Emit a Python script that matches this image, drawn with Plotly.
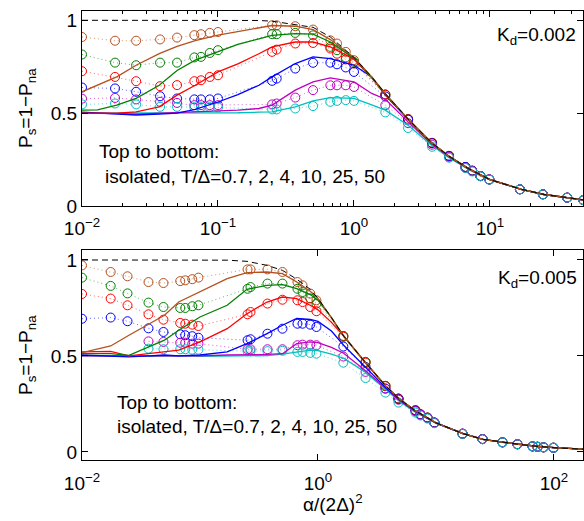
import plotly.graph_objects as go

# ---------------- data: top panel (K_d = 0.002) ----------------
x_th_top = [0.01, 0.013, 0.018, 0.025, 0.037, 0.05, 0.068, 0.1, 0.14, 0.2, 0.25, 0.37, 0.5,
            0.67, 1.0, 1.35, 1.7, 2.5, 3.7, 5, 7, 10, 17, 25, 37, 50]
th_top_iso = [1, 1, 1, 1, 1, 1, 1, 1, 1, 0.999, 0.995, 0.976, 0.962, 0.91, 0.80, 0.695, 0.605,
              0.468, 0.342, 0.268, 0.2, 0.142, 0.09, 0.062, 0.045, 0.032]
th_top_07 = [0.615, 0.65, 0.695, 0.758, 0.82, 0.86, 0.89, 0.92, 0.94, 0.96, 0.972, 0.968, 0.95,
             0.896, 0.80, 0.695, 0.605, 0.468, 0.342, 0.268, 0.2, 0.142, 0.09, 0.062, 0.045, 0.032]
th_top_2 = [0.516, 0.518, 0.543, 0.58, 0.65, 0.73, 0.785, 0.83, 0.87, 0.90, 0.919, 0.928, 0.925,
            0.883, 0.795, 0.693, 0.603, 0.468, 0.342, 0.268, 0.2, 0.142, 0.09, 0.062, 0.045, 0.032]
th_top_4 = [0.5, 0.5, 0.5, 0.507, 0.534, 0.597, 0.65, 0.722, 0.765, 0.82, 0.857, 0.883, 0.883,
            0.857, 0.79, 0.69, 0.60, 0.467, 0.342, 0.268, 0.2, 0.142, 0.09, 0.062, 0.045, 0.032]
th_top_10 = [0.505, 0.5, 0.497, 0.49, 0.495, 0.5, 0.52, 0.56, 0.60, 0.65, 0.695, 0.767, 0.803,
             0.794, 0.758, 0.695, 0.597, 0.465, 0.34, 0.267, 0.2, 0.142, 0.09, 0.062, 0.045, 0.032]
th_top_25 = [0.5, 0.5, 0.497, 0.495, 0.5, 0.5, 0.505, 0.51, 0.516, 0.525, 0.543, 0.624, 0.668,
             0.69, 0.668, 0.606, 0.575, 0.453, 0.335, 0.265, 0.2, 0.142, 0.09, 0.062, 0.045, 0.032]
th_top_50 = [0.5, 0.5, 0.5, 0.498, 0.5, 0.5, 0.498, 0.5, 0.502, 0.505, 0.507, 0.534, 0.566,
             0.584, 0.58, 0.545, 0.516, 0.435, 0.328, 0.26, 0.196, 0.14, 0.09, 0.062, 0.045, 0.032]

x_sim_top = [0.01, 0.0175, 0.025, 0.0375, 0.05, 0.067, 0.075, 0.087, 0.1,
             0.25, 0.27, 0.37, 0.5, 0.67, 0.75, 0.87, 1.0,
             1.7, 2.5, 3.75, 5, 6.6, 7.4, 8.5, 9.9, 16.6, 24.5, 37, 48.5]
sim_top_07 = [0.91, 0.89, 0.89, 0.897, 0.907, 0.92, 0.925, 0.932, 0.937,
              0.973, 0.973, 0.968, 0.95, 0.892, 0.875, 0.83, 0.785,
              0.60, 0.468, 0.34, 0.27, 0.21, 0.19, 0.161, 0.143, 0.09, 0.063, 0.045, 0.032]
sim_top_2 = [0.816, 0.772, 0.758, 0.772, 0.772, 0.80, 0.803, 0.824, 0.839,
             0.925, 0.925, 0.932, 0.919, 0.857, 0.839, 0.80, 0.776,
             0.60, 0.468, 0.34, 0.27, 0.21, 0.19, 0.161, 0.143, 0.09, 0.063, 0.045, 0.032]
sim_top_4 = [0.726, 0.695, 0.672, 0.645, 0.651, 0.672, 0.677, 0.695, 0.704,
             0.83, 0.842, 0.875, 0.878, 0.848, 0.82, 0.789, 0.767,
             0.60, 0.468, 0.34, 0.27, 0.21, 0.19, 0.161, 0.143, 0.09, 0.063, 0.045, 0.032]
sim_top_10 = [0.638, 0.633, 0.615, 0.591, 0.579, 0.574, 0.574, 0.574, 0.579,
              0.674, 0.686, 0.74, 0.771, 0.772, 0.763, 0.746, 0.722,
              0.59, 0.465, 0.338, 0.268, 0.21, 0.19, 0.161, 0.143, 0.09, 0.063, 0.045, 0.032]
sim_top_25 = [0.578, 0.582, 0.574, 0.561, 0.555, 0.543, 0.543, 0.543, 0.543,
              0.547, 0.552, 0.584, 0.624, 0.65, 0.65, 0.65, 0.641,
              0.543, 0.446, 0.33, 0.265, 0.205, 0.188, 0.161, 0.143, 0.09, 0.063, 0.045, 0.032]
sim_top_50 = [0.547, 0.552, 0.547, 0.534, 0.534, 0.532, 0.532, 0.532, 0.531,
              0.52, 0.52, 0.525, 0.538, 0.561, 0.566, 0.57, 0.566,
              0.504, 0.42, 0.319, 0.26, 0.205, 0.186, 0.16, 0.142, 0.09, 0.063, 0.045, 0.032]

# ---------------- data: bottom panel (K_d = 0.005) ----------------
x_th_bot = [0.01, 0.0175, 0.025, 0.037, 0.05, 0.066, 0.1, 0.17, 0.25, 0.37, 0.5, 0.66, 0.86,
            1.0, 1.3, 1.65, 2.5, 3.75, 4.85, 6.6, 10, 17, 25, 37, 50, 70, 100, 180]
th_bot_iso = [1, 1, 1, 1, 1, 1, 1, 0.999, 0.993, 0.972, 0.946, 0.90, 0.847,
              0.80, 0.70, 0.604, 0.469, 0.344, 0.278, 0.217, 0.152, 0.095, 0.066, 0.05, 0.04,
              0.03, 0.022, 0.014]
th_bot_07 = [0.517, 0.552, 0.608, 0.668, 0.712, 0.781, 0.833, 0.903, 0.934, 0.9375, 0.929,
             0.885, 0.837, 0.80, 0.70, 0.604, 0.469, 0.344, 0.278, 0.217, 0.152, 0.095, 0.066,
             0.05, 0.04, 0.03, 0.022, 0.014]
th_bot_2 = [0.512, 0.512, 0.503, 0.547, 0.582, 0.634, 0.703, 0.764, 0.847, 0.868, 0.872,
            0.851, 0.82, 0.79, 0.70, 0.604, 0.469, 0.344, 0.278, 0.217, 0.152, 0.095, 0.066,
            0.05, 0.04, 0.03, 0.022, 0.014]
th_bot_4 = [0.521, 0.524, 0.5, 0.512, 0.521, 0.53, 0.573, 0.642, 0.72, 0.781, 0.807, 0.799,
            0.764, 0.74, 0.675, 0.604, 0.467, 0.343, 0.278, 0.217, 0.152, 0.095, 0.066, 0.05,
            0.04, 0.03, 0.022, 0.014]
th_bot_10 = [0.505, 0.50, 0.495, 0.50, 0.505, 0.50, 0.505, 0.521, 0.564, 0.616, 0.66, 0.695,
             0.69, 0.68, 0.63, 0.556, 0.443, 0.335, 0.275, 0.215, 0.151, 0.095, 0.066, 0.05,
             0.04, 0.03, 0.022, 0.014]
th_bot_25 = [0.5, 0.5, 0.498, 0.5, 0.5, 0.502, 0.5, 0.505, 0.505, 0.508, 0.512, 0.564, 0.573,
             0.57, 0.545, 0.514, 0.425, 0.33, 0.27, 0.212, 0.15, 0.095, 0.066, 0.05, 0.04,
             0.03, 0.022, 0.014]
th_bot_50 = [0.5, 0.502, 0.5, 0.498, 0.5, 0.5, 0.498, 0.5, 0.5, 0.502, 0.51, 0.521, 0.53,
             0.528, 0.51, 0.488, 0.417, 0.325, 0.265, 0.21, 0.15, 0.095, 0.066, 0.05, 0.04,
             0.03, 0.022, 0.014]

x_sim_bot = [0.01, 0.0175, 0.0243, 0.0366, 0.049, 0.068, 0.075, 0.086, 0.097,
             0.253, 0.268, 0.373, 0.5, 0.67, 0.74, 0.86, 0.97,
             1.64, 2.53, 3.73, 4.81, 6.7, 7.38, 8.47, 9.7, 16.8, 24.8, 36.6, 49,
             65.8, 72.5, 81.5, 99]
sim_bot_07 = [0.972, 0.9375, 0.915, 0.885, 0.88, 0.89, 0.894, 0.90, 0.908,
              0.951, 0.951, 0.951, 0.9375, 0.885, 0.868, 0.825, 0.79,
              0.604, 0.469, 0.344, 0.278, 0.217, 0.196, 0.179, 0.153, 0.095, 0.067, 0.05, 0.04,
              0.029, 0.027, 0.024, 0.022]
sim_bot_2 = [0.908, 0.865, 0.826, 0.778, 0.755, 0.75, 0.75, 0.759, 0.764,
             0.85, 0.859, 0.877, 0.877, 0.85, 0.833, 0.80, 0.773,
             0.604, 0.469, 0.344, 0.278, 0.217, 0.196, 0.179, 0.153, 0.095, 0.067, 0.05, 0.04,
             0.029, 0.027, 0.024, 0.022]
sim_bot_4 = [0.823, 0.799, 0.764, 0.717, 0.689, 0.672, 0.668, 0.663, 0.656,
             0.717, 0.729, 0.773, 0.793, 0.79, 0.781, 0.755, 0.733,
             0.60, 0.465, 0.343, 0.278, 0.217, 0.196, 0.179, 0.153, 0.095, 0.067, 0.05, 0.04,
             0.029, 0.027, 0.024, 0.022]
sim_bot_10 = [0.694, 0.70, 0.681, 0.644, 0.625, 0.613, 0.608, 0.603, 0.595,
              0.582, 0.587, 0.616, 0.642, 0.668, 0.668, 0.663, 0.651,
              0.549, 0.443, 0.33, 0.275, 0.215, 0.195, 0.178, 0.153, 0.095, 0.067, 0.05, 0.04,
              0.029, 0.027, 0.024, 0.022]
sim_bot_25 = [None, None, None, 0.576, 0.573, 0.569, 0.569, 0.564, 0.564,
              0.535, 0.535, 0.535, 0.535, 0.556, 0.559, 0.559, 0.556,
              0.497, 0.417, 0.33, 0.272, 0.212, 0.194, 0.177, 0.152, 0.095, 0.067, 0.05, 0.04,
              0.029, 0.027, 0.024, 0.022]
sim_bot_50 = [None, None, None, 0.538, 0.535, 0.535, 0.535, 0.533, 0.533,
              0.525, 0.525, 0.525, 0.527, 0.521, 0.521, 0.516, 0.512,
              0.465, 0.385, 0.309, 0.257, 0.205, 0.19, 0.174, 0.15, 0.094, 0.066, 0.05, 0.04,
              0.029, 0.027, 0.024, 0.022]

labels = ["0.7", "2", "4", "10", "25", "50"]
colors = ["#b5501e", "#008000", "#ff0000", "#0000ff", "#bf00bf", "#00bfbf"]

top_th = [th_top_07, th_top_2, th_top_4, th_top_10, th_top_25, th_top_50]
top_sim = [sim_top_07, sim_top_2, sim_top_4, sim_top_10, sim_top_25, sim_top_50]
bot_th = [th_bot_07, th_bot_2, th_bot_4, th_bot_10, th_bot_25, th_bot_50]
bot_sim = [sim_bot_07, sim_bot_2, sim_bot_4, sim_bot_10, sim_bot_25, sim_bot_50]

FONT = "Liberation Sans, Arial, Helvetica, sans-serif"

fig = go.Figure()


def add_panel(xa, ya, x_th, th_iso, ths, x_sim, sims):
    for lab, col, ys in zip(labels, colors, sims):
        fig.add_trace(go.Scatter(
            x=x_sim, y=ys, xaxis=xa, yaxis=ya, mode="lines",
            line=dict(color=col, width=1, dash="1px,3px"), opacity=0.6,
            connectgaps=False, showlegend=False, hoverinfo="skip"))
    for lab, col, ys in zip(labels, colors, sims):
        fig.add_trace(go.Scatter(
            x=x_sim, y=ys, xaxis=xa, yaxis=ya, mode="markers",
            marker=dict(symbol="circle-open", size=9, color=col, line=dict(width=1, color=col)),
            showlegend=False, name="sim T/Δ=" + lab))
    for lab, col, ys in reversed(list(zip(labels, colors, ths))):
        fig.add_trace(go.Scatter(
            x=x_th, y=ys, xaxis=xa, yaxis=ya, mode="lines",
            line=dict(color=col, width=1.3), showlegend=False, name="T/Δ=" + lab))
    fig.add_trace(go.Scatter(
        x=x_th, y=th_iso, xaxis=xa, yaxis=ya, mode="lines",
        line=dict(color="black", width=1, dash="6px,4px"), showlegend=False, name="isolated"))


add_panel("x", "y", x_th_top, th_top_iso, top_th, x_sim_top, top_sim)
add_panel("x2", "y2", x_th_bot, th_bot_iso, bot_th, x_sim_bot, bot_sim)

# geometry in pixels
W, H = 584, 521
L, R, T, B = 82, 1, 11, 61
PW, PH = W - L - R, H - T - B


def py2paper(py):
    return (H - B - py) / PH


def px2paper(px):
    return (px - L) / PW


top_minor = [k * d for d in [0.01, 0.1, 1, 10] for k in range(2, 10) if k * d < 50]

axis_common = dict(showline=True, linecolor="black", linewidth=1, mirror="ticks",
                   ticks="inside", ticklen=6, tickcolor="black", showgrid=False,
                   zeroline=False, tickfont=dict(family=FONT, size=19, color="black"))

fig.update_layout(
    width=W, height=H, margin=dict(l=L, r=R, t=T, b=B),
    paper_bgcolor="white", plot_bgcolor="white",
    font=dict(family=FONT, color="black"),
    xaxis=dict(type="log", range=[-2, 1.684], domain=[0, 1], anchor="y",
               tickvals=[0.01, 0.1, 1, 10],
               ticktext=["10<sup>−2</sup>", "10<sup>−1</sup>", "10<sup>0</sup>", "10<sup>1</sup>"],
               minor=dict(ticks="inside", ticklen=3, tickcolor="black", tickvals=top_minor),
               ticklabelstandoff=5, **axis_common),
    yaxis=dict(range=[0, 1.05], domain=[py2paper(206), 1], anchor="x",
               tickvals=[0, 0.5, 1], ticktext=["0", "0.5", "1"], **axis_common),
    xaxis2=dict(type="log", range=[-2, 2.246], domain=[0, 1], anchor="y2",
                tickvals=[0.01, 1, 100],
                ticktext=["10<sup>−2</sup>", "10<sup>0</sup>", "10<sup>2</sup>"],
                ticklabelstandoff=6, **axis_common),
    yaxis2=dict(range=[-0.042, 1.052], domain=[0, py2paper(250)], anchor="x2",
                tickvals=[0, 0.5, 1], ticktext=["0", "0.5", "1"], **axis_common),
)

ann = []
ytitle = "P<sub>s</sub>=1−P<sub>na</sub>"
for cy in [108, 355]:
    ann.append(dict(text=ytitle, xref="paper", yref="paper", x=px2paper(27), y=py2paper(cy),
                    textangle=-90, showarrow=False, xanchor="center", yanchor="middle",
                    font=dict(family=FONT, size=19)))
ann.append(dict(text="α/(2Δ)<sup>2</sup>", xref="paper", yref="paper", x=px2paper(333),
                y=py2paper(503), showarrow=False, xanchor="center", yanchor="middle",
                font=dict(family=FONT, size=19)))
ann.append(dict(text="K<sub>d</sub>=0.002", xref="paper", yref="paper", x=px2paper(578),
                y=py2paper(36), showarrow=False, xanchor="right", yanchor="middle",
                font=dict(family=FONT, size=19)))
ann.append(dict(text="K<sub>d</sub>=0.005", xref="paper", yref="paper", x=px2paper(579),
                y=py2paper(279), showarrow=False, xanchor="right", yanchor="middle",
                font=dict(family=FONT, size=19)))
for x0, y1, x1, y2, txt2 in [(97, 151, 103, 176, "isolated, T/Δ=0.7, 2, 4, 10, 25, 50"),
                             (115, 402, 115, 426, "isolated, T/Δ=0.7, 2, 4, 10, 25, 50")]:
    ann.append(dict(text="Top to bottom:", xref="paper", yref="paper", x=px2paper(x0),
                    y=py2paper(y1), showarrow=False, xanchor="left", yanchor="middle",
                    font=dict(family=FONT, size=19)))
    ann.append(dict(text=txt2, xref="paper", yref="paper", x=px2paper(x1),
                    y=py2paper(y2), showarrow=False, xanchor="left", yanchor="middle",
                    font=dict(family=FONT, size=19)))
fig.update_layout(annotations=ann)

fig.write_html("out.html")
